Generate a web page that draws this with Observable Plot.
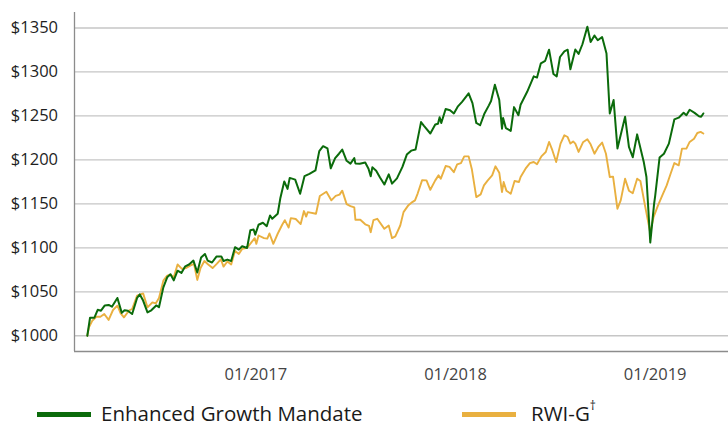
<!DOCTYPE html>
<html><head><meta charset="utf-8">
<script src="https://cdn.jsdelivr.net/npm/d3@7"></script>
<script src="https://cdn.jsdelivr.net/npm/@observablehq/plot@0.6"></script>
<style>
body{margin:0;background:#fff;font-family:"Open Sans",sans-serif;}
#wrap{position:relative;width:728px;height:428px;overflow:hidden;background:#fff}
#legend{position:absolute;left:0;top:401px;height:24px;width:728px;font-size:20.5px;color:#1a1a1a}
.item{position:absolute;top:0;height:24px;line-height:24px;white-space:nowrap}
.sw{position:absolute;top:11px;height:5px}
sup{font-size:12px;line-height:12px;vertical-align:top;position:relative;top:-1px}
</style></head><body><div id="wrap"><div id="chart"></div><div id="legend"></div></div>
<script>
const seriesNames = ["Enhanced Growth Mandate", "RWI-G"];
const seriesColors = ["#0b6b0b", "#e9b040"];
const yTicks = [1000, 1050, 1100, 1150, 1200, 1250, 1300, 1350];
const xTicks = ["2017-01-01", "2018-01-01", "2019-01-01"];

const greenDates = ["2016-02-28","2016-03-04","2016-03-12","2016-03-18","2016-03-24","2016-03-31","2016-04-07","2016-04-13","2016-04-23","2016-05-01","2016-05-06","2016-05-12","2016-05-20","2016-05-29","2016-06-03","2016-06-09","2016-06-17","2016-06-24","2016-07-03","2016-07-08","2016-07-16","2016-07-23","2016-07-29","2016-08-04","2016-08-11","2016-08-18","2016-08-25","2016-09-01","2016-09-09","2016-09-16","2016-09-23","2016-09-30","2016-10-05","2016-10-13","2016-10-21","2016-10-30","2016-11-03","2016-11-10","2016-11-17","2016-11-24","2016-12-01","2016-12-07","2016-12-16","2016-12-22","2016-12-28","2016-12-31","2017-01-06","2017-01-14","2017-01-21","2017-01-27","2017-01-31","2017-02-10","2017-02-15","2017-02-22","2017-02-28","2017-03-04","2017-03-14","2017-03-23","2017-03-31","2017-04-09","2017-04-20","2017-04-27","2017-05-04","2017-05-12","2017-05-18","2017-05-26","2017-06-02","2017-06-08","2017-06-16","2017-06-23","2017-06-30","2017-07-02","2017-07-10","2017-07-20","2017-07-26","2017-07-30","2017-08-02","2017-08-09","2017-08-16","2017-08-24","2017-09-01","2017-09-07","2017-09-16","2017-09-26","2017-10-04","2017-10-12","2017-10-20","2017-10-30","2017-11-04","2017-11-16","2017-11-25","2017-11-30","2017-12-03","2017-12-06","2017-12-14","2017-12-22","2017-12-29","2018-01-05","2018-01-13","2018-01-25","2018-02-01","2018-02-08","2018-02-15","2018-02-23","2018-03-03","2018-03-07","2018-03-14","2018-03-22","2018-03-27","2018-03-29","2018-04-03","2018-04-12","2018-04-18","2018-04-26","2018-04-30","2018-05-12","2018-05-24","2018-05-30","2018-06-06","2018-06-14","2018-06-21","2018-06-29","2018-07-05","2018-07-11","2018-07-19","2018-07-25","2018-07-30","2018-08-08","2018-08-14","2018-08-21","2018-08-30","2018-09-05","2018-09-12","2018-09-18","2018-09-26","2018-10-04","2018-10-10","2018-10-17","2018-10-24","2018-11-07","2018-11-14","2018-11-21","2018-11-29","2018-12-11","2018-12-16","2018-12-23","2018-12-30","2019-01-01","2019-01-09","2019-01-17","2019-01-26","2019-02-05","2019-02-13","2019-02-22","2019-02-27","2019-03-05","2019-03-14","2019-03-22","2019-03-26","2019-03-30"];
const greenValues = [1000,1020.5,1020.5,1029.5,1028.5,1034.5,1035,1033,1043,1026,1029,1028.5,1024.7,1043,1047,1040,1026.6,1029,1034.5,1032.5,1055,1066.5,1070,1063,1074,1071.5,1079,1081,1085.5,1072,1089,1093,1085.5,1083.3,1090,1090.2,1085,1086.6,1085,1100.7,1098,1101.8,1099.8,1120,1120.8,1115,1126.2,1128.5,1124.6,1136.8,1133,1138.7,1157,1175.5,1167,1179.5,1177.5,1161.5,1181.5,1184,1188,1210,1215.6,1213,1190.5,1202,1207,1211.7,1199,1195.7,1202,1196,1195.7,1197,1190,1181.3,1191.5,1187.7,1180,1172,1183.5,1173,1179,1192,1206,1210.5,1211.7,1243,1239,1230,1240.3,1241,1248.5,1242,1257.8,1256.5,1252.8,1260.5,1266,1275.6,1264.5,1242,1239.4,1252.8,1262,1267,1285.5,1268,1235.5,1247.5,1236.2,1233,1260,1250.8,1262.7,1277.4,1295,1293.6,1309.8,1312.7,1325.3,1297.6,1294.9,1317,1323.5,1325.3,1303,1325.5,1320.5,1331.5,1351.5,1334,1341.5,1336,1339.7,1321,1252.8,1268,1213,1249,1214.7,1203,1229,1198,1180.5,1106,1150,1159,1202.6,1207,1218.5,1246,1248,1253.5,1250.8,1257,1253.5,1249.7,1249,1252.8];

const goldDates = ["2016-02-28","2016-03-02","2016-03-08","2016-03-16","2016-03-23","2016-03-30","2016-04-07","2016-04-15","2016-04-23","2016-04-29","2016-05-05","2016-05-14","2016-05-20","2016-05-29","2016-06-09","2016-06-17","2016-06-26","2016-07-02","2016-07-08","2016-07-16","2016-07-23","2016-07-29","2016-08-04","2016-08-11","2016-08-19","2016-08-26","2016-09-04","2016-09-10","2016-09-16","2016-09-22","2016-09-29","2016-10-06","2016-10-14","2016-10-22","2016-10-29","2016-11-03","2016-11-10","2016-11-17","2016-11-24","2016-12-01","2016-12-07","2016-12-16","2016-12-25","2016-12-30","2017-01-02","2017-01-06","2017-01-16","2017-01-22","2017-01-26","2017-02-02","2017-02-10","2017-02-18","2017-02-23","2017-03-02","2017-03-06","2017-03-15","2017-03-24","2017-03-30","2017-04-03","2017-04-06","2017-04-21","2017-04-28","2017-05-10","2017-05-19","2017-05-27","2017-06-03","2017-06-08","2017-06-16","2017-06-23","2017-06-30","2017-07-02","2017-07-11","2017-07-20","2017-07-27","2017-07-30","2017-08-04","2017-08-11","2017-08-24","2017-09-01","2017-09-07","2017-09-13","2017-09-22","2017-09-28","2017-10-07","2017-10-14","2017-10-19","2017-10-24","2017-11-01","2017-11-09","2017-11-16","2017-11-25","2017-12-01","2017-12-05","2017-12-14","2017-12-21","2017-12-29","2018-01-04","2018-01-11","2018-01-17","2018-01-25","2018-01-31","2018-02-08","2018-02-16","2018-02-22","2018-03-01","2018-03-09","2018-03-15","2018-03-22","2018-03-27","2018-03-30","2018-04-04","2018-04-12","2018-04-19","2018-04-27","2018-04-30","2018-05-09","2018-05-17","2018-05-24","2018-05-30","2018-06-07","2018-06-15","2018-06-21","2018-06-27","2018-07-04","2018-07-12","2018-07-19","2018-07-25","2018-07-30","2018-08-04","2018-08-08","2018-08-14","2018-08-22","2018-08-30","2018-09-05","2018-09-12","2018-09-19","2018-09-26","2018-10-03","2018-10-10","2018-10-16","2018-10-24","2018-10-30","2018-11-07","2018-11-14","2018-11-21","2018-11-29","2018-12-05","2018-12-14","2018-12-23","2018-12-29","2019-01-06","2019-01-14","2019-01-22","2019-01-29","2019-02-05","2019-02-13","2019-02-19","2019-02-27","2019-03-05","2019-03-13","2019-03-19","2019-03-25","2019-03-30"];
const goldValues = [1000,1009.5,1017,1021.7,1021.7,1024.7,1018,1029.3,1034.2,1025.4,1020.9,1028.5,1030.4,1045.6,1048.2,1032.3,1038,1036.8,1043,1062.7,1068.4,1069.5,1066.5,1081,1076,1077,1080,1081.7,1063.5,1077,1085,1081,1077,1082,1087,1078.6,1084.4,1081,1096.5,1093,1098.8,1100,1107,1111,1104.5,1114,1111,1110.5,1116.3,1104.5,1116,1126,1131.5,1123,1133.7,1132.8,1127,1141.8,1135.5,1140.6,1138.7,1159,1163.8,1154,1159,1160.5,1165,1149.7,1147.5,1146,1132,1132,1126.8,1125,1117.8,1131.5,1133,1121.6,1125.4,1111,1113,1125.4,1140.6,1148.5,1152,1154,1162,1177,1176.7,1166,1176.7,1182.4,1178.5,1193,1192,1186,1195,1196.4,1204,1204,1189,1157.7,1160.8,1171,1176.7,1182.4,1192.7,1185.5,1163.4,1174.8,1165,1161.5,1176,1174.8,1180.5,1190,1196.4,1197.6,1195,1204,1209,1220.4,1211,1197.6,1218.5,1228,1226,1218.5,1221,1218.5,1209,1220,1223.4,1217.7,1207,1214.7,1219.7,1207,1180.5,1181,1144.4,1154,1178.6,1165,1162,1178.6,1176,1146,1117,1135,1148,1159.6,1171,1184,1196.4,1193.8,1212.8,1212.8,1220.4,1224,1230.6,1231.8,1230];

const green = greenDates.map((d, i) => ({date: new Date(d), value: greenValues[i]}));
const gold = goldDates.map((d, i) => ({date: new Date(d), value: goldValues[i]}));

const DAY = 864e5, origin = Date.UTC(2017, 0, 1);
const x0 = new Date(origin - 331.4 * DAY), x1 = new Date(origin + 864 * DAY);
const yMin = 982.1, yMax = 1367.6;

const chart = Plot.plot({
  width: 728, height: 395,
  marginLeft: 74, marginRight: 0, marginTop: 12, marginBottom: 44,
  style: {fontFamily: "'Open Sans', sans-serif", fontSize: "16.5px", background: "#fff", overflow: "visible"},
  x: {type: "utc", domain: [x0, x1]},
  y: {domain: [yMin, yMax]},
  marks: [
    Plot.gridY(yTicks, {stroke: "#c6c6c6", strokeOpacity: 1, strokeWidth: 1.3}),
    Plot.ruleX([x0], {stroke: "#8c8c8c", strokeWidth: 1.3}),
    Plot.ruleY([yMin], {stroke: "#8c8c8c", strokeWidth: 1.3}),
    Plot.lineY(gold, {x: "date", y: "value", stroke: seriesColors[1], strokeWidth: 1.9}),
    Plot.lineY(green, {x: "date", y: "value", stroke: seriesColors[0], strokeWidth: 2}),
    Plot.axisY({ticks: yTicks, tickFormat: d => "$" + d, tickSize: 0, tickPadding: 16.5, fill: "#1e1e1e", fontSize: 16.5, label: null}),
    Plot.axisX({ticks: xTicks.map(d => new Date(d)), tickFormat: d3.utcFormat("%m/%Y"), tickSize: 0, tickPadding: 17, fill: "#444", fontSize: 16.5, label: null})
  ]
});
document.getElementById("chart").appendChild(chart);

const legend = document.getElementById("legend");
const legendPos = [{sw: 37, text: 101}, {sw: 462, text: 531}];
seriesNames.forEach((name, i) => {
  const sw = document.createElement("div");
  sw.className = "sw";
  sw.style.left = legendPos[i].sw + "px";
  sw.style.width = "54px";
  sw.style.background = seriesColors[i];
  legend.appendChild(sw);
  const t = document.createElement("div");
  t.className = "item";
  t.style.left = legendPos[i].text + "px";
  t.textContent = name;
  if (i === 1) { const s = document.createElement("sup"); s.textContent = "†"; t.appendChild(s); }
  legend.appendChild(t);
});
</script>
</body></html>
